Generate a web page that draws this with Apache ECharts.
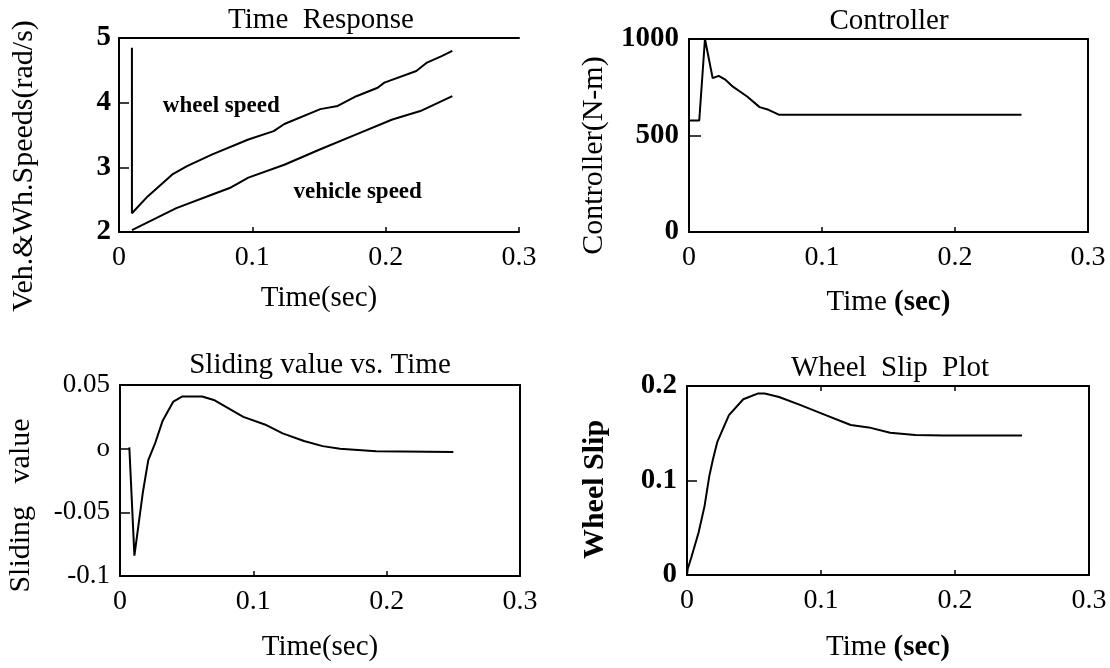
<!DOCTYPE html>
<html>
<head>
<meta charset="utf-8">
<script src="https://cdn.jsdelivr.net/npm/echarts@6/dist/echarts.min.js"></script>
<style>
html,body{margin:0;padding:0;background:#fff;}
#c{width:1110px;height:668px;}
</style>
</head>
<body>
<div id="c"></div>
<script>
// ---------- DATA ----------
var xTicks = [0, 0.1, 0.2, 0.3];

// Panel 1: Time Response
var wheelT = [0.0097, 0.0097, 0.0215, 0.040, 0.051, 0.070, 0.097, 0.116, 0.124, 0.151, 0.164, 0.178, 0.194, 0.199, 0.223, 0.231, 0.242, 0.250];
var wheelV = [4.85, 2.29, 2.55, 2.89, 3.02, 3.20, 3.43, 3.56, 3.67, 3.90, 3.95, 4.10, 4.23, 4.31, 4.49, 4.62, 4.72, 4.80];
var vehT = [0.0097, 0.043, 0.070, 0.083, 0.097, 0.124, 0.151, 0.178, 0.205, 0.226, 0.250];
var vehV = [2.03, 2.37, 2.58, 2.68, 2.84, 3.04, 3.28, 3.51, 3.74, 3.87, 4.10];
var speedLabels = ['wheel speed', 'vehicle speed'];
var speedLabelT = [0.0767, 0.179];
var speedLabelV = [3.94, 2.62];

// Panel 2: Controller
var ctrlT = [0, 0.0077, 0.0120, 0.0178, 0.0223, 0.0276, 0.033, 0.0437, 0.0531, 0.0598, 0.0679, 0.250];
var ctrlV = [578, 578, 1000, 797, 809, 788, 753, 702, 647, 633, 607, 607];

// Panel 3: Sliding value
var slideT = [0.007, 0.0108, 0.0145, 0.0172, 0.0212, 0.0266, 0.032, 0.040, 0.0468, 0.0616, 0.071, 0.0925, 0.1086, 0.122, 0.138, 0.152, 0.165, 0.192, 0.250];
var slideV = [0.001, -0.084, -0.055, -0.034, -0.009, 0.005, 0.022, 0.037, 0.041, 0.041, 0.038, 0.025, 0.019, 0.012, 0.006, 0.002, 0.0, -0.002, -0.0027];
var slideTickVals = [-0.1, -0.05, 0, 0.05];
var slideTickText = ['-0.1', '-0.05', 'o', '0.05'];

// Panel 4: Wheel slip
var slipT = [0, 0.0005, 0.0032, 0.0086, 0.0131, 0.0166, 0.0193, 0.0227, 0.0313, 0.042, 0.0527, 0.058, 0.0687, 0.0848, 0.1035, 0.1222, 0.1356, 0.1516, 0.1703, 0.1917, 0.25];
var slipV = [0.0, 0.0063, 0.0186, 0.0448, 0.0729, 0.1044, 0.1219, 0.1412, 0.1692, 0.186, 0.192, 0.192, 0.1884, 0.1797, 0.1692, 0.1587, 0.1562, 0.1506, 0.1482, 0.1475, 0.1475];

var titles = ['Time  Response', 'Controller', 'Sliding value vs. Time', 'Wheel  Slip  Plot'];

// ---------- BUILD ----------
function zip(a, b) { return a.map(function (v, i) { return [v, b[i]]; }); }
var FONT = '"Liberation Serif", "Times New Roman", serif';
var BLACK = '#000';
function plain(v) { return String(v); }

var nameRich = { b: { fontFamily: FONT, fontSize: 29, fontWeight: 'bold', color: BLACK } };

function baseX(grid, opts) {
  return Object.assign({
    type: 'value', gridIndex: grid, min: 0, max: 0.3, interval: 0.1,
    axisLine: { show: true, onZero: false, lineStyle: { color: BLACK, width: 2 } },
    axisTick: { show: true, inside: true, length: 5, lineStyle: { color: BLACK, width: 1.5 } },
    axisLabel: { color: BLACK, fontFamily: FONT, fontSize: 28, margin: 12, formatter: plain },
    splitLine: { show: false },
    nameLocation: 'middle',
    nameTextStyle: { color: BLACK, fontFamily: FONT, fontSize: 29, rich: nameRich }
  }, opts);
}
function topX(grid, tick) {
  return {
    type: 'value', gridIndex: grid, min: 0, max: 0.3, interval: 0.1, position: 'top',
    axisLine: { show: true, onZero: false, lineStyle: { color: BLACK, width: 2 } },
    axisTick: { show: !!tick, inside: true, length: 5, lineStyle: { color: BLACK, width: 1.5 } },
    axisLabel: { show: false }, splitLine: { show: false }
  };
}
function rightY(grid, min, max, interval) {
  return {
    type: 'value', gridIndex: grid, min: min, max: max, interval: interval, position: 'right',
    axisLine: { show: true, onZero: false, lineStyle: { color: BLACK, width: 2 } },
    axisTick: { show: false }, axisLabel: { show: false }, splitLine: { show: false }
  };
}
function leftY(grid, opts) {
  return Object.assign({
    type: 'value', gridIndex: grid, position: 'left',
    axisLine: { show: true, onZero: false, lineStyle: { color: BLACK, width: 2 } },
    axisTick: { show: true, inside: true, length: 10, lineStyle: { color: BLACK, width: 1.5 } },
    splitLine: { show: false },
    nameLocation: 'middle'
  }, opts);
}

var lineStyle = { color: BLACK, width: 2 };

var option = {
  backgroundColor: '#fff',
  animation: false,
  title: [
    { text: titles[0], left: 321, top: 6 },
    { text: titles[1], left: 889, top: 7 },
    { text: titles[2], left: 320, top: 351 },
    { text: titles[3], left: 890, top: 354 }
  ].map(function (t) {
    t.textAlign = 'center'; t.padding = 0;
    t.textStyle = { color: BLACK, fontFamily: FONT, fontSize: 29, fontWeight: 'normal' };
    return t;
  }),
  grid: [
    { left: 119, top: 38, width: 400, height: 194 },
    { left: 689, top: 39, width: 399, height: 193 },
    { left: 120, top: 385, width: 400, height: 191 },
    { left: 687, top: 386, width: 402, height: 189 }
  ],
  xAxis: [
    baseX(0, { name: 'Time(sec)', nameGap: 52 }),
    baseX(1, { name: 'Time {b|(sec)}', nameGap: 56 }),
    baseX(2, { name: 'Time(sec)', nameGap: 57 }),
    baseX(3, { name: 'Time {b|(sec)}', nameGap: 58 }),
    topX(0, false), topX(1, false), topX(2, false), topX(3, true)
  ],
  yAxis: [
    leftY(0, { min: 2, max: 5, interval: 1, name: 'Veh.&Wh.Speeds(rad/s)', nameGap: 80,
      axisLabel: { color: BLACK, fontFamily: FONT, fontSize: 29, fontWeight: 'bold', margin: 8, formatter: plain },
      nameTextStyle: { color: BLACK, fontFamily: FONT, fontSize: 30, padding: [0, 62, 0, 0] } }),
    leftY(1, { min: 0, max: 1000, interval: 500, name: 'Controller(N-m)', nameGap: 80,
      axisTick: { show: true, inside: true, length: 12, lineStyle: { color: BLACK, width: 1.5 } },
      axisLabel: { color: BLACK, fontFamily: FONT, fontSize: 29, fontWeight: 'bold', margin: 10, formatter: plain },
      nameTextStyle: { color: BLACK, fontFamily: FONT, fontSize: 30, padding: [0, 40, 0, 0] } }),
    leftY(2, { min: -0.1, max: 0.05, interval: 0.05, name: 'Sliding   value', nameGap: 84,
      axisLabel: { color: BLACK, fontFamily: FONT, fontSize: 27, margin: 10,
        formatter: function (v) {
          for (var i = 0; i < slideTickVals.length; i++) if (Math.abs(v - slideTickVals[i]) < 1e-9) return slideTickText[i];
          return '';
        } },
      nameTextStyle: { color: BLACK, fontFamily: FONT, fontSize: 30, padding: [0, 50, 0, 0] } }),
    leftY(3, { min: 0, max: 0.2, interval: 0.1, name: 'Wheel Slip', nameGap: 77,
      axisLabel: { color: BLACK, fontFamily: FONT, fontSize: 29, fontWeight: 'bold', margin: 10, formatter: plain },
      nameTextStyle: { color: BLACK, fontFamily: FONT, fontSize: 30, fontWeight: 'bold', padding: [0, 18, 0, 0] } }),
    rightY(1, 0, 1000, 500), rightY(2, -0.1, 0.05, 0.05), rightY(3, 0, 0.2, 0.1)
  ],
  series: [
    { type: 'line', name: 'wheel speed', xAxisIndex: 0, yAxisIndex: 0, data: zip(wheelT, wheelV), showSymbol: false, lineStyle: lineStyle },
    { type: 'line', name: 'vehicle speed', xAxisIndex: 0, yAxisIndex: 0, data: zip(vehT, vehV), showSymbol: false, lineStyle: lineStyle },
    { type: 'scatter', xAxisIndex: 0, yAxisIndex: 0, symbolSize: 0, silent: true,
      itemStyle: { color: BLACK, opacity: 1 },
      data: speedLabels.map(function (n, i) { return { name: n, value: [speedLabelT[i], speedLabelV[i]] }; }),
      label: { show: true, position: 'inside', formatter: '{b}', color: BLACK, opacity: 1, fontFamily: FONT, fontSize: 23, fontWeight: 'bold', textBorderWidth: 0 } },
    { type: 'line', name: 'Controller', xAxisIndex: 1, yAxisIndex: 1, data: zip(ctrlT, ctrlV), showSymbol: false, lineStyle: lineStyle },
    { type: 'line', name: 'Sliding value', xAxisIndex: 2, yAxisIndex: 2, data: zip(slideT, slideV), showSymbol: false, lineStyle: lineStyle },
    { type: 'line', name: 'Wheel Slip', xAxisIndex: 3, yAxisIndex: 3, data: zip(slipT, slipV), showSymbol: false, lineStyle: lineStyle }
  ]
};

var chart = echarts.init(document.getElementById('c'), null, { renderer: 'canvas' });
chart.setOption(option);
</script>
</body>
</html>
